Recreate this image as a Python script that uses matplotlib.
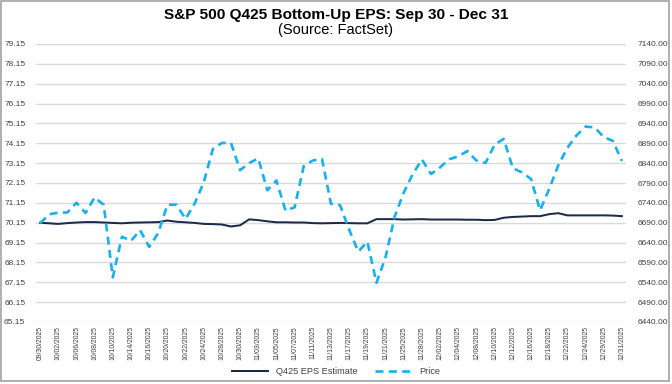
import matplotlib.pyplot as plt
from matplotlib.patches import Rectangle
import numpy as np

plt.rcParams['font.family'] = ['Liberation Sans', 'DejaVu Sans']

dates = [
    "09/30/2025", "10/01/2025", "10/02/2025", "10/03/2025", "10/06/2025", "10/07/2025",
    "10/08/2025", "10/09/2025", "10/10/2025", "10/13/2025", "10/14/2025", "10/15/2025",
    "10/16/2025", "10/17/2025", "10/20/2025", "10/21/2025", "10/22/2025", "10/23/2025",
    "10/24/2025", "10/27/2025", "10/28/2025", "10/29/2025", "10/30/2025", "10/31/2025",
    "11/03/2025", "11/04/2025", "11/05/2025", "11/06/2025", "11/07/2025", "11/10/2025",
    "11/11/2025", "11/12/2025", "11/13/2025", "11/14/2025", "11/17/2025", "11/18/2025",
    "11/19/2025", "11/20/2025", "11/21/2025", "11/24/2025", "11/25/2025", "11/26/2025",
    "11/28/2025", "12/01/2025", "12/02/2025", "12/03/2025", "12/04/2025", "12/05/2025",
    "12/08/2025", "12/09/2025", "12/10/2025", "12/11/2025", "12/12/2025", "12/15/2025",
    "12/16/2025", "12/17/2025", "12/18/2025", "12/19/2025", "12/22/2025", "12/23/2025",
    "12/24/2025", "12/26/2025", "12/29/2025", "12/30/2025", "12/31/2025",
]

eps = [
    70.15, 70.12, 70.09, 70.13, 70.16, 70.18, 70.18, 70.16, 70.14, 70.12,
    70.15, 70.16, 70.17, 70.18, 70.26, 70.20, 70.17, 70.14, 70.09, 70.08,
    70.06, 69.96, 70.02, 70.32, 70.28, 70.22, 70.17, 70.17, 70.16, 70.16,
    70.13, 70.12, 70.13, 70.14, 70.13, 70.12, 70.12, 70.33, 70.33, 70.33,
    70.31, 70.32, 70.33, 70.31, 70.31, 70.31, 70.31, 70.30, 70.30, 70.28,
    70.29, 70.40, 70.44, 70.46, 70.48, 70.48, 70.58, 70.63, 70.52, 70.52,
    70.52, 70.52, 70.52, 70.51, 70.48,
]

price = [
    6688.5, 6711.2, 6715.4, 6715.8, 6740.3, 6714.6, 6753.7, 6735.1, 6552.5, 6654.7,
    6644.3, 6671.1, 6629.1, 6664.0, 6735.1, 6735.4, 6699.4, 6738.4, 6791.7, 6875.2,
    6890.9, 6890.6, 6822.3, 6840.2, 6852.0, 6771.6, 6796.3, 6720.3, 6728.8, 6832.4,
    6846.6, 6850.9, 6737.5, 6734.1, 6672.4, 6617.3, 6642.2, 6538.8, 6603.0, 6705.1,
    6765.9, 6812.6, 6849.1, 6812.6, 6829.4, 6849.7, 6857.1, 6870.4, 6846.5, 6840.5,
    6886.7, 6901.0, 6827.4, 6816.5, 6800.3, 6721.4, 6774.8, 6834.5, 6878.5, 6909.8,
    6932.1, 6929.9, 6905.7, 6896.2, 6845.5,
]

eps_ticks = np.arange(65.15, 79.16, 1.0)
price_ticks = np.arange(6440, 7141, 50)

x = np.arange(len(dates))
txt = '#404040'

fig = plt.figure(figsize=(7.0, 4.0), dpi=96)
ax = fig.add_axes([36 / 672, 1 - 322 / 384, 590 / 672, 278 / 384])
ax2 = ax.twinx()

ax.set_ylim(65.15, 79.15)
ax.set_yticks(eps_ticks)
ax.set_yticklabels([f"{v:.2f}" for v in eps_ticks], fontsize=6.3, color=txt)
ax2.set_ylim(6440, 7140)
ax2.set_yticks(price_ticks)
ax2.set_yticklabels([f"{v:.2f}" for v in price_ticks], fontsize=6.3, color=txt)

ax.grid(axis='y', color='#d9d9d9', linewidth=1.0)
ax.set_axisbelow(True)

l1, = ax.plot(x, eps, color='#1b2a4a', linewidth=1.5, label='Q425 EPS Estimate', zorder=3)
l2, = ax2.plot(x, price, color='#1ab0ee', linewidth=2.0, linestyle=(0, (3, 2)),
               label='Price', zorder=3)

ax.set_xlim(-0.45, 64.45)
ax.set_xticks(x[::2])
ax.set_xticklabels(dates[::2], rotation=90, fontsize=5.2, color=txt)

for a in (ax, ax2):
    for s in a.spines.values():
        s.set_visible(False)
    a.tick_params(length=0)
ax.tick_params(axis='y', pad=8)
ax2.tick_params(axis='y', pad=9)
ax.tick_params(axis='x', pad=3)

fig.text(0.5, 1 - 15 / 384, 'S&P 500 Q425 Bottom-Up EPS: Sep 30 - Dec 31',
         ha='center', va='center', fontsize=11.5, fontweight='bold', color='#000000')
fig.text(0.5, 1 - 30 / 384, '(Source: FactSet)', ha='center', va='center',
         fontsize=11, color='#000000')

fig.legend(handles=[l1, l2], loc='center', bbox_to_anchor=(0.5, 1 - 372 / 384),
           ncol=2, frameon=False, fontsize=6.8, handlelength=4, columnspacing=2,
           labelcolor=txt)

fig.patches.append(Rectangle((0.002, 0.008), 0.994, 0.99, transform=fig.transFigure,
                             fill=False, edgecolor='#a6a6a6', linewidth=1.3))

fig.savefig('out.png', dpi=96)
